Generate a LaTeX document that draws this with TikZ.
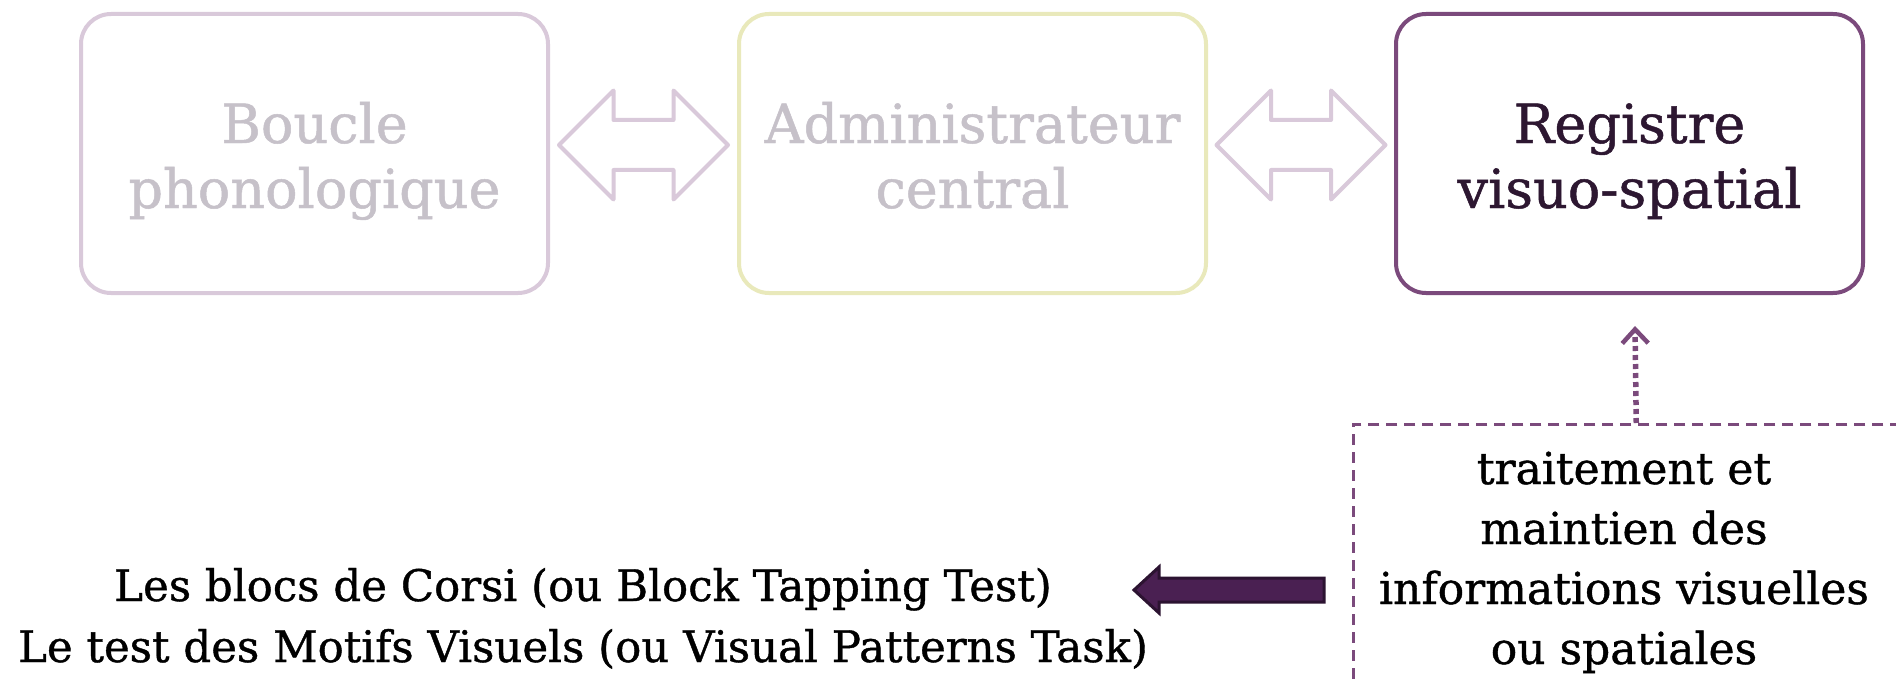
\documentclass[tikz,border=0pt]{standalone}
\usepackage{fontspec}
\setmainfont{DejaVu Serif}[FakeBold=0.9]
\usetikzlibrary{arrows.meta,calc}
\definecolor{bordA}{HTML}{D9C9DA}
\definecolor{bordB}{HTML}{E9E9BB}
\definecolor{bordC}{HTML}{7B4A7C}
\definecolor{greytxt}{HTML}{C6C1C9}
\definecolor{darktxt}{HTML}{2D1731}
\definecolor{arrfill}{HTML}{4A2052}
\definecolor{arrdraw}{HTML}{2C1331}
\begin{document}
\begin{tikzpicture}[x=1pt,y=-1pt,
  box/.style={draw, rounded corners=30pt, line width=4pt, minimum width=467pt, minimum height=279pt, inner sep=0pt},
  boxtext/.style={font=\fontsize{54}{65}\selectfont, align=center, inner sep=0pt, anchor=base},
  smalltext/.style={font=\fontsize{44}{60}\selectfont, align=center, inner sep=0pt, anchor=base},
  lefttext/.style={font=\fontsize{43.5}{61}\selectfont, align=center, inner sep=0pt, anchor=base},
  dbl/.style={draw=bordA, fill=white, line width=4pt, line join=round},
  dblarrow/.pic={\draw[dbl] (-84.5,0) -- (-30,-54.5) -- (-30,-25) -- (30,-25) -- (30,-54.5) -- (84.5,0) -- (30,54.5) -- (30,25) -- (-30,25) -- (-30,54.5) -- cycle;},
  dashbox/.style={draw=bordC, dash pattern=on 11pt off 7pt, line width=2.5pt, minimum width=566pt, minimum height=280pt, anchor=north west, inner sep=0pt},
  dotarrow/.style={draw=bordC, line width=5.5pt, dash pattern=on 5pt off 4pt, -{Straight Barb[length=14pt,width=26pt,line width=4.5pt]}},
  bigarrow/.style={fill=arrfill, draw=arrdraw, line width=3pt, line join=miter}
]
\clip (0,0) rectangle (1896,682);
\fill[white] (0,0) rectangle (1896,682);

\node[box, draw=bordA] (b1) at (314.5,153.5) {};
\node[box, draw=bordB] (b2) at (972.5,153.5) {};
\node[box, draw=bordC] (b3) at (1629.5,153.5) {};

\node[boxtext, text=greytxt] (t1) at (314.5,208) {Boucle\\phonologique};
\node[boxtext, text=greytxt] (t2) at (972.5,208) {Administrateur\\central};
\node[boxtext, text=darktxt] (t3) at (1629.5,208) {Registre\\visuo-spatial};

\coordinate (m1) at ($(b1.east)!0.5!(b2.west)+(0,-8.5)$);
\coordinate (m2) at ($(b2.east)!0.5!(b3.west)+(0,-8.5)$);
\pic at (m1) {dblarrow};
\pic at (m2) {dblarrow};

\node[dashbox] (db) at (1352,423) {};
\node[smalltext] (rt) at (1624,664) {traitement et\\maintien des\\informations visuelles\\ou spatiales};

\coordinate (dtip) at (1635,326);
\draw[dotarrow] (db.north) -- (dtip);

\node[lefttext] (lt) at (583,662) {Les blocs de Corsi (ou Block Tapping Test)\\Le test des Motifs Visuels (ou Visual Patterns Task)};

\coordinate (atail) at (1324,590);
\coordinate (ahead) at (1134,590);
\draw[bigarrow] (ahead) -- ($(ahead)+(25,-23)$) -- ($(ahead)+(25,-12)$) -- ($(atail)+(0,-12)$) -- ($(atail)+(0,12)$) -- ($(ahead)+(25,12)$) -- ($(ahead)+(25,23)$) -- cycle;
\end{tikzpicture}
\end{document}
